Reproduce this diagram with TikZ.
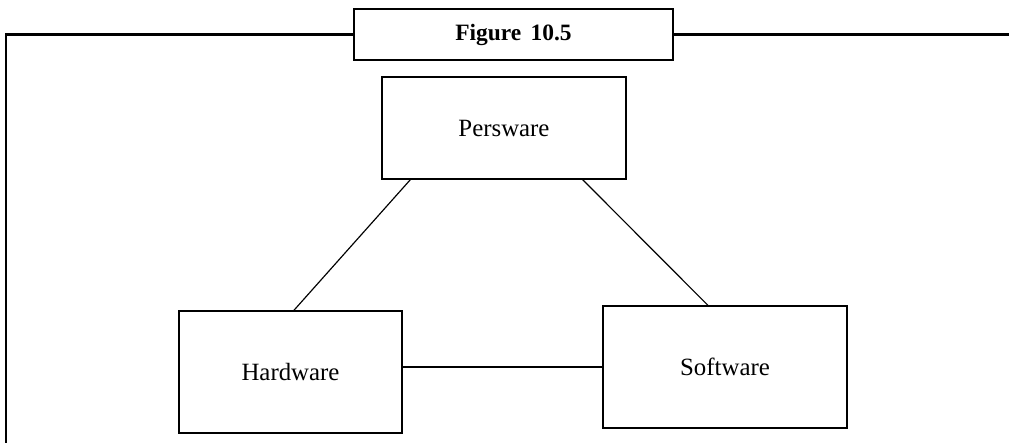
\documentclass[tikz,border=0pt]{standalone}
\usepackage{fontspec}
\setmainfont{Liberation Serif}
\usepackage{tikz}
\usetikzlibrary{positioning,calc}

\begin{document}
\begin{tikzpicture}[part/.style={draw, line width=0.5pt, minimum width=3.66cm, minimum height=1.83cm, align=center, font=\fontsize{10.6}{12}\selectfont, inner sep=0pt}, tbox/.style={draw, line width=0.9pt, minimum width=4.785cm, minimum height=0.765cm, font=\fontsize{10}{12}\selectfont\bfseries, inner sep=0pt}, frame/.style={line width=0.9pt}, link/.style={line width=0.5pt}]
\useasboundingbox (0,0) rectangle (15.135,-6.63);
\node[tbox] (title) at (7.7025,-0.5175) {Figure\hspace{0.4em}10.5};
\node[part, minimum height=1.53cm] (pw) at (7.56,-1.92) {Persware};
\node[part, minimum width=3.345cm] (hw) at (4.3575,-5.58) {Hardware};
\node[part] (sw) at (10.875,-5.505) {Software};
\coordinate (fl) at (0.09,-6.7);
\coordinate (fr) at (15.2,-0.5175);
\draw[frame] (fl) |- (title.west); \draw[frame] (title.east) -- (fr);
\draw[link] ([xshift=0.435cm]pw.south west) -- ([xshift=0.05cm]hw.north); \draw[link] ([xshift=-0.66cm]pw.south east) -- ([xshift=-0.255cm]sw.north); \draw[link] (sw.west) -- (sw.west -| hw.east);
\end{tikzpicture}
\end{document}
